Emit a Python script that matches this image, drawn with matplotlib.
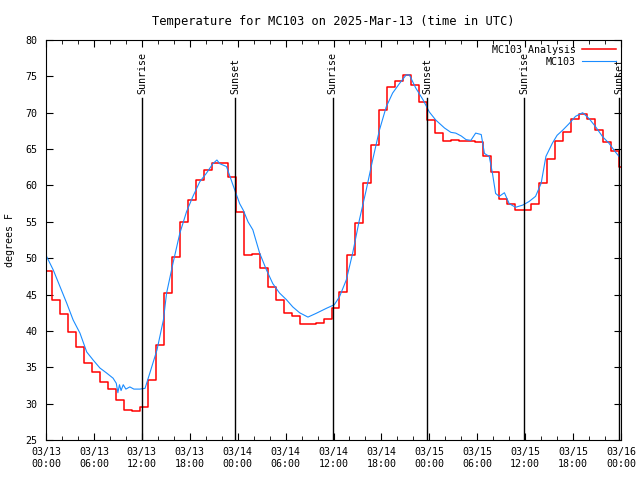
import datetime as dt
import matplotlib
matplotlib.use('Agg')
import matplotlib.pyplot as plt
import matplotlib.dates as mdates

start = dt.datetime(2025, 3, 13, 0, 0)

# MC103 Analysis (stepped, hourly) - step start times in hours after start
analysis_hours = [0] + [k - 0.25 for k in range(1, 73)]
analysis_temps = [48.3, 44.3, 42.3, 39.9, 37.8, 35.6, 34.3, 33.0, 32.0, 30.5,
                  29.1, 29.0, 29.5, 33.3, 38.0, 45.2, 50.2, 55.0, 58.0, 60.8,
                  62.1, 63.1, 63.1, 61.2, 56.3, 50.4, 50.6, 48.7, 46.1, 44.2,
                  42.5, 42.0, 41.0, 41.0, 41.1, 41.6, 43.2, 45.4, 50.4, 54.8,
                  60.3, 65.6, 70.4, 73.5, 74.4, 75.2, 73.8, 71.5, 69.0, 67.2,
                  66.1, 66.3, 66.1, 66.1, 66.0, 64.1, 61.8, 58.1, 57.5, 56.6,
                  56.6, 57.4, 60.3, 63.7, 66.1, 67.4, 69.1, 69.8, 69.1, 67.6,
                  66.0, 64.8, 62.6]

# MC103 observations
obs_hours = [0, 0.9, 1.75, 2.6, 3.4, 4.25, 5.1, 5.9, 6.75, 7.6, 8.4, 8.8, 9.0,
             9.2, 9.4, 9.67, 10.0, 10.5, 11.0, 11.75, 12.4, 13.0, 13.9, 14.7,
             15.1, 15.9, 16.75, 17.6, 18.4, 19.25, 20.1, 20.9, 21.4, 21.75,
             22.6, 23.4, 24.25, 24.7, 25.3, 25.9, 26.75, 27.6, 28.4, 29.25,
             30.1, 30.9, 31.75, 32.8, 33.8, 35.1, 36.1, 36.75, 37.6, 38.4,
             39.25, 40.1, 40.9, 41.75, 42.6, 43.4, 44.25, 45.1, 45.5, 46.3,
             47.2, 48.0, 48.8, 49.9, 50.7, 51.3, 52.0, 52.6, 53.2, 53.8, 54.5,
             54.9, 55.5, 55.9, 56.3, 56.75, 57.4, 58.0, 58.8, 59.7, 60.5, 61.3,
             62.0, 62.6, 63.4, 64.0, 64.7, 65.5, 66.3, 67.2, 68.0, 68.8, 69.7,
             70.5, 71.3, 71.75]
obs_temps = [50.4, 48.4, 46.1, 43.8, 41.5, 39.7, 37.1, 36.0, 34.9, 34.2, 33.5,
             32.8, 31.5, 32.6, 31.8, 32.6, 32.0, 32.3, 32.0, 32.0, 32.1, 34.2,
             37.4, 41.5, 45.2, 49.3, 53.4, 56.4, 58.5, 60.5, 61.7, 63.0, 63.5,
             63.0, 62.6, 60.1, 57.5, 56.6, 55.0, 53.9, 50.7, 48.4, 46.5, 45.2,
             44.3, 43.3, 42.5, 41.9, 42.4, 43.1, 43.6, 44.7, 47.0, 50.7, 55.3,
             59.4, 63.5, 67.6, 70.8, 72.7, 74.0, 75.2, 75.2, 73.4, 71.8, 70.1,
             69.0, 67.9, 67.3, 67.2, 66.8, 66.3, 66.2, 67.2, 67.0, 64.4, 64.0,
             61.7, 58.9, 58.5, 59.0, 57.5, 57.0, 57.3, 57.8, 58.5, 60.3, 64.0,
             65.8, 66.9, 67.6, 68.5, 69.5, 70.0, 69.2, 68.1, 66.7, 65.8, 64.6,
             64.0]

event_labels = ['Sunrise', 'Sunset', 'Sunrise', 'Sunset', 'Sunrise', 'Sunset']
event_hours = [12.04, 23.66, 35.92, 47.7, 59.9, 71.75]

plt.rcParams['font.family'] = 'DejaVu Sans Mono'
plt.rcParams['font.size'] = 7.2

fig = plt.figure(figsize=(6.4, 4.8), dpi=100)
ax = fig.add_axes([46 / 640, 40 / 480, 575 / 640, 400 / 480])

ana_t = [start + dt.timedelta(hours=h) for h in analysis_hours]
ana_t.append(start + dt.timedelta(hours=72))
ana_v = analysis_temps + [analysis_temps[-1]]
ax.plot(ana_t, ana_v, drawstyle='steps-post', color='#ff0000', lw=1.1,
        label='MC103 Analysis')

obs_t = [start + dt.timedelta(hours=h) for h in obs_hours]
ax.plot(obs_t, obs_temps, color='#1a8cff', lw=0.8, label='MC103')

for lab, h in zip(event_labels, event_hours):
    t = start + dt.timedelta(hours=h)
    ax.plot([t, t], [25, 72], color='black', lw=1)
    ax.text(t, 72.6, lab, rotation=90, ha='center', va='bottom')

ax.set_xlim(start, start + dt.timedelta(hours=72))
ax.set_ylim(25, 80)
ax.set_yticks(range(25, 81, 5))
ax.xaxis.set_major_locator(mdates.HourLocator(byhour=[0, 6, 12, 18]))
ax.xaxis.set_minor_locator(mdates.HourLocator(interval=2))
ax.xaxis.set_major_formatter(mdates.DateFormatter('%m/%d\n%H:%M'))
ax.tick_params(which='both', direction='in', top=True, right=True)
ax.tick_params(which='major', length=5)
ax.tick_params(which='minor', length=3)
ax.tick_params(axis='y', pad=6)
ax.tick_params(axis='x', pad=5)

ax.set_title('Temperature for MC103 on 2025-Mar-13 (time in UTC)', pad=11)
ax.set_ylabel('degrees F', labelpad=8)
ax.legend(loc='upper right', frameon=False, markerfirst=False,
          handlelength=3.4, borderaxespad=0.1, labelspacing=0.2,
          handletextpad=0.6)

fig.savefig('out.png', dpi=100)
